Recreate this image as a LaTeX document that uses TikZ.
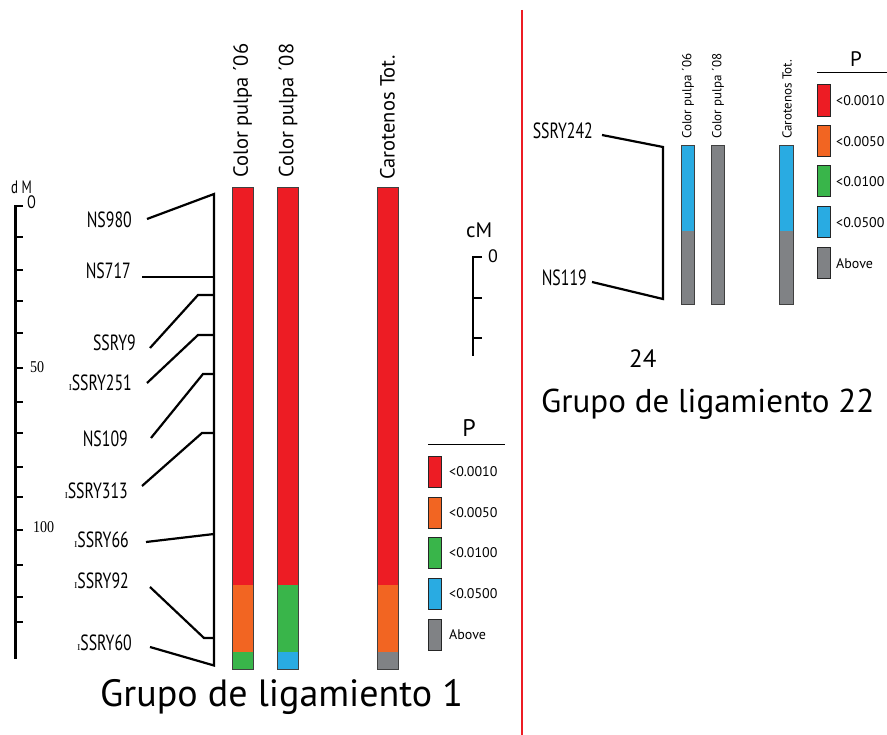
\documentclass[tikz,border=0pt]{standalone}
\usepackage{fontspec}
\setmainfont{PT Sans}
\newfontfamily\condfont[FakeStretch=0.72]{PT Sans}
\newfontfamily\sercond[FakeStretch=0.85]{Liberation Serif}
\newfontfamily\serplain{Liberation Serif}
\definecolor{pRed}{HTML}{ED1C24}
\definecolor{pOrange}{HTML}{F26522}
\definecolor{pGreen}{HTML}{39B54A}
\definecolor{pBlue}{HTML}{29ABE2}
\definecolor{pGray}{HTML}{808285}
\newcommand{\smI}{{\serplain\fontsize{9}{9}\selectfont I}}
\begin{document}
\begin{tikzpicture}[x=1pt,y=-1pt,
  conn/.style={line width=2.2pt,line join=miter},
  mk/.style={font=\condfont\fontsize{22}{22}\selectfont,anchor=east,inner sep=0pt},
  axnum/.style={font=\sercond\fontsize{16.5}{16.5}\selectfont,anchor=west,inner sep=0pt},
  barlab/.style={font=\fontsize{20.5}{20.5}\selectfont,rotate=90,anchor=west,inner sep=0pt},
  barlabs/.style={font=\fontsize{13}{13}\selectfont,rotate=90,anchor=west,inner sep=0pt},
  baredge/.style={draw=black!75,line width=0.9pt},
  swatch/.style={draw=black!85,line width=1pt},
  leg/.style={font=\fontsize{14}{14}\selectfont,anchor=west,inner sep=0pt},
  axtick/.style={line width=2.6pt},
  cmtick/.style={line width=1.3pt}]
\useasboundingbox (0,0) rectangle (887,735);

% ---------------- left axis (dM) ----------------
\draw[axtick] (23,206) -- (15.5,206) -- (15.5,659);
\foreach \yy in {237,270,301,333,368,402,433,467,497,530,565,597,622}
  \draw[axtick] (15.5,\yy) -- (23,\yy);
\node[font=\condfont\fontsize{18}{18}\selectfont,anchor=south west,inner sep=0pt] (dM) at (11,193.5) {d M};
\node[font=\condfont\fontsize{18}{18}\selectfont,anchor=south west,inner sep=0pt] (d0) at (27,208.5) {O};
\node[axnum] (n50) at (30,367) {50};
\node[axnum] (n100) at (33,527) {100};

% ---------------- marker labels ----------------
\node[mk] (NS980) at (132,219.5) {NS980};
\node[mk] (NS717) at (131,270.5) {NS717};
\node[mk] (SSRY9) at (136,342.5) {SSRY9};
\node[mk] (SSRY251) at (132,382.5) {\smI SSRY251};
\node[mk] (NS109) at (128,438.5) {NS109};
\node[mk] (SSRY313) at (128,490.5) {\smI SSRY313};
\node[mk] (SSRY66) at (129,539.5) {\smI SSRY66};
\node[mk] (SSRY92) at (129,580.5) {\smI SSRY92};
\node[mk] (SSRY60) at (132,642.5) {\smI SSRY60};

% connector points
\coordinate (top) at (214,194);
\coordinate (bot) at (214,665.5);
\coordinate (a1) at (147,219);
\coordinate (a2) at (142,277);   \coordinate (b2) at (214,277);
\coordinate (a3) at (150,348);   \coordinate (k3) at (198,295); \coordinate (b3) at (214,295);
\coordinate (a4) at (147,383);   \coordinate (k4) at (198,335); \coordinate (b4) at (214,335);
\coordinate (a5) at (151,438);   \coordinate (k5) at (203,374); \coordinate (b5) at (214,374);
\coordinate (a6) at (142,486);   \coordinate (k6) at (202,433); \coordinate (b6) at (214,433);
\coordinate (a7) at (146,542);   \coordinate (b7) at (214,534);
\coordinate (a8) at (150,587);   \coordinate (k8) at (204,638); \coordinate (b8) at (214,638);
\coordinate (a9) at (150,647);

\draw[conn] (a1) -- (top) -- (bot) -- (a9);
\draw[conn] (a2) -- (b2);
\draw[conn] (a3) -- (k3) -- (b3);
\draw[conn] (a4) -- (k4) -- (b4);
\draw[conn] (a5) -- (k5) -- (b5);
\draw[conn] (a6) -- (k6) -- (b6);
\draw[conn] (a7) -- (b7);
\draw[conn] (a8) -- (k8) -- (b8);

% ---------------- left bars ----------------
\fill[pRed] (232,187) rectangle (253,585);
\fill[pOrange] (232,585) rectangle (253,652);
\fill[pGreen] (232,652) rectangle (253,669);
\draw[baredge] (232,187) rectangle (253,669);
\fill[pRed] (277,187) rectangle (298,585);
\fill[pGreen] (277,585) rectangle (298,652);
\fill[pBlue] (277,652) rectangle (298,669);
\draw[baredge] (277,187) rectangle (298,669);
\fill[pRed] (377,187) rectangle (398,585);
\fill[pOrange] (377,585) rectangle (398,652);
\fill[pGray] (377,652) rectangle (398,669);
\draw[baredge] (377,187) rectangle (398,669);

\node[barlab] (L1) at (242.5,178) {Color pulpa ´06};
\node[barlab] (L2) at (288,178) {Color pulpa ´08};
\node[barlab] (L3) at (387.5,180) {Carotenos Tot.};

% ---------------- cM scale ----------------
\node[font=\fontsize{21}{21}\selectfont,anchor=south west,inner sep=0pt] (cM) at (466,237.5) {cM};
\node[font=\fontsize{18}{18}\selectfont,anchor=south west,inner sep=0pt] (c0) at (488,262.5) {0};
\draw[cmtick] (482,257) -- (473,257) -- (473,356);
\draw[cmtick] (473,298) -- (482,298);
\draw[cmtick] (473,338) -- (482,338);

% ---------------- left legend ----------------
\node[font=\fontsize{24}{24}\selectfont,anchor=base,inner sep=0pt] (P1) at (469,437) {P};
\draw[line width=1pt] (428,445) -- (505,445);
\draw[swatch,fill=pRed] (428,457) rectangle (441,487);
\draw[swatch,fill=pOrange] (428,497) rectangle (441,528);
\draw[swatch,fill=pGreen] (428,537) rectangle (441,568);
\draw[swatch,fill=pBlue] (428,578) rectangle (441,609);
\draw[swatch,fill=pGray] (428,619) rectangle (441,650);
\node[leg] (l1) at (449,472) {<0.0010};
\node[leg] (l2) at (449,512.5) {<0.0050};
\node[leg] (l3) at (449,552.5) {<0.0100};
\node[leg] (l4) at (449,593.5) {<0.0500};
\node[leg] (l5) at (449,634.5) {Above};

% ---------------- left title ----------------
\node[font=\fontsize{38}{38}\selectfont,anchor=base west,inner sep=0pt] (T1) at (100,706) {Grupo de ligamiento 1};

% ---------------- red separator ----------------
\draw[pRed,line width=2.4pt] (522,10) -- (522,735);

% ---------------- right panel ----------------
\node[mk] (SSRY242) at (593,130.5) {SSRY242};
\node[mk] (NS119) at (587,277.5) {NS119};
\coordinate (r1) at (602,135); \coordinate (rt) at (663,147);
\coordinate (rb) at (663,299); \coordinate (r2) at (592,282);
\draw[conn] (r1) -- (rt) -- (rb) -- (r2);

\fill[pBlue] (681,145) rectangle (694,231);
\fill[pGray] (681,231) rectangle (694,304);
\draw[baredge] (681,145) rectangle (694,304);
\fill[pGray] (711,145) rectangle (724,304);
\draw[baredge] (711,145) rectangle (724,304);
\fill[pBlue] (779,145) rectangle (793,231);
\fill[pGray] (779,231) rectangle (793,304);
\draw[baredge] (779,145) rectangle (793,304);

\node[barlabs] (R1) at (688,139) {Color pulpa ´06};
\node[barlabs] (R2) at (718,139) {Color pulpa ´08};
\node[barlabs] (R3) at (787,139) {Carotenos Tot.};

\node[font=\fontsize{21}{21}\selectfont,anchor=base,inner sep=0pt] (P2) at (856,67) {P};
\draw[line width=1pt] (817,73) -- (887,73);
\draw[swatch,fill=pRed] (817,85) rectangle (830,117);
\draw[swatch,fill=pOrange] (817,126) rectangle (830,157);
\draw[swatch,fill=pGreen] (817,166) rectangle (830,197);
\draw[swatch,fill=pBlue] (817,207) rectangle (830,238);
\draw[swatch,fill=pGray] (817,248) rectangle (830,279);
\node[leg] (m1) at (836,101) {<0.0010};
\node[leg] (m2) at (836,141.5) {<0.0050};
\node[leg] (m3) at (836,181.5) {<0.0100};
\node[leg] (m4) at (836,222.5) {<0.0500};
\node[leg] (m5) at (836,263.5) {Above};

\node[font=\fontsize{25}{25}\selectfont,anchor=base west,inner sep=0pt] (n24) at (629,368) {24};
\node[font=\fontsize{33}{33}\selectfont,anchor=base west,inner sep=0pt] (T2) at (541,413) {Grupo de ligamiento 22};
\end{tikzpicture}
\end{document}
